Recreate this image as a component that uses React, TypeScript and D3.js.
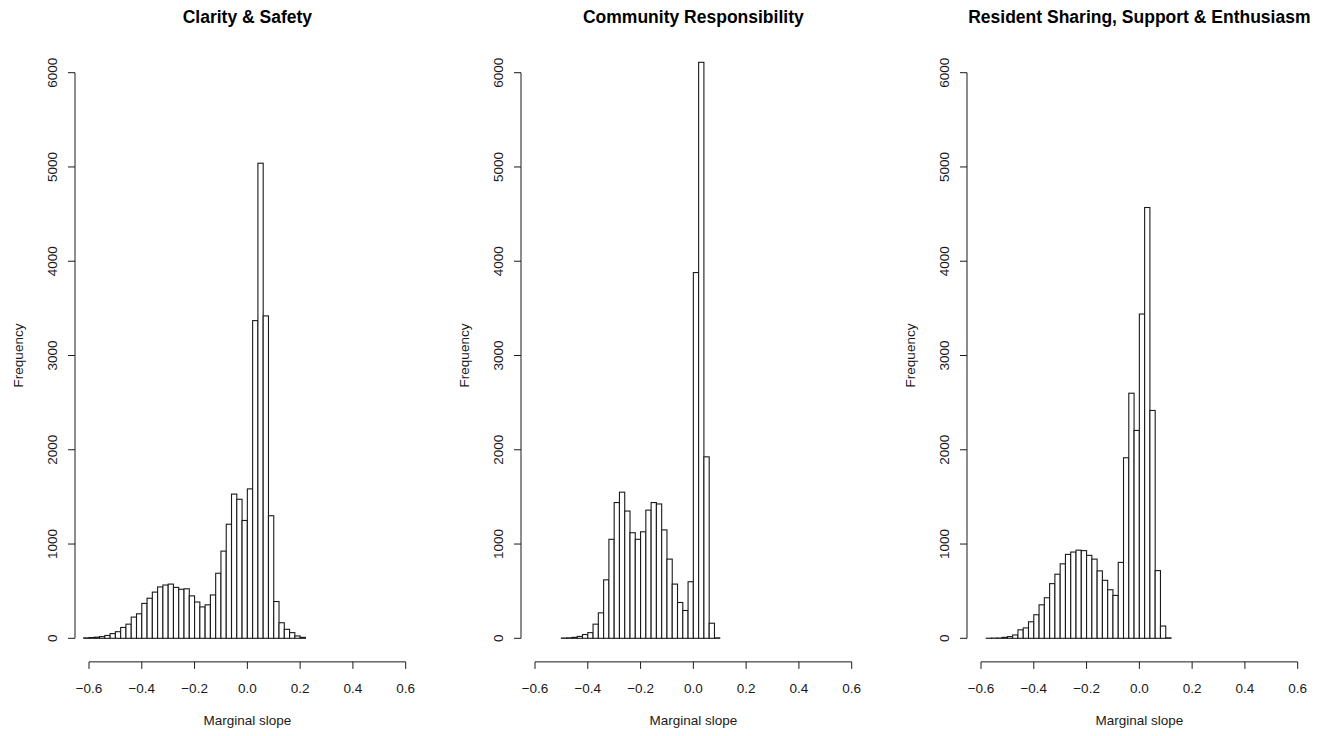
import { useEffect, useRef } from "react";
import * as d3 from "d3";

const WIDTH = 1329;
const HEIGHT = 736;

const BIN_WIDTH = 0.02;

const TITLES = [
  "Clarity & Safety",
  "Community Responsibility",
  "Resident Sharing, Support & Enthusiasm",
];

// first break of each histogram
const BIN_STARTS = [-0.62, -0.5, -0.58];

const clarityCounts = [
  5, 8, 12, 18, 30, 50, 70, 115, 150, 225, 260, 370, 425, 490, 545, 565, 575, 540, 520, 525, 450,
  385, 333, 355, 460, 690, 925, 1210, 1530, 1475, 1250, 1585, 3370, 5040, 3420, 1300, 390, 165, 95,
  60, 25, 10,
];

const communityCounts = [
  3, 5, 10, 20, 40, 60, 150, 270, 620, 1050, 1440, 1550, 1350, 1120, 1050, 1130, 1360, 1440, 1425,
  1150, 840, 575, 380, 295, 600, 3880, 6110, 1925, 160, 5,
];

const residentCounts = [
  1, 2, 3, 10, 18, 35, 90, 110, 175, 250, 355, 430, 580, 680, 790, 890, 915, 935, 930, 880, 840,
  715, 615, 515, 455, 805, 1915, 2600, 2205, 3440, 4570, 2417, 718, 130, 5,
];

const COUNTS = [clarityCounts, communityCounts, residentCounts];

const X_TICKS = [-0.6, -0.4, -0.2, 0, 0.2, 0.4, 0.6];
const Y_TICKS = [0, 1000, 2000, 3000, 4000, 5000, 6000];

const FONT = "'Liberation Sans', Arial, Helvetica, sans-serif";
const INK = "#1a1a1a";

export default function App() {
  const svgRef = useRef<SVGSVGElement | null>(null);

  useEffect(() => {
    const svgElement = svgRef.current;
    if (!svgElement) return;

    const svg = d3.select(svgElement);
    svg.selectAll("*").remove();

    const panelStep = 446;
    const y = d3.scaleLinear().domain([0, 6000]).range([638.3, 72.7]);
    const fmt = (v: number) => (v < 0 ? `\u2212${Math.abs(v).toFixed(1)}` : v.toFixed(1));

    TITLES.forEach((title, i) => {
      const ox = i * panelStep;
      const x = d3.scaleLinear().domain([-0.6, 0.6]).range([89 + ox, 405.7 + ox]);
      const g = svg.append("g");

      const bins = COUNTS[i].map((count, k) => ({
        x0: BIN_STARTS[i] + k * BIN_WIDTH,
        x1: BIN_STARTS[i] + (k + 1) * BIN_WIDTH,
        count,
      }));

      g.selectAll("rect.bar")
        .data(bins)
        .join("rect")
        .attr("class", "bar")
        .attr("x", (d) => x(d.x0))
        .attr("y", (d) => y(d.count))
        .attr("width", (d) => x(d.x1) - x(d.x0))
        .attr("height", (d) => y(0) - y(d.count))
        .attr("fill", "#ffffff")
        .attr("stroke", INK)
        .attr("stroke-width", 1.1);

      // x axis
      const axisY = y(-250);
      g.append("line")
        .attr("x1", x(-0.6))
        .attr("x2", x(0.6))
        .attr("y1", axisY)
        .attr("y2", axisY)
        .attr("stroke", INK)
        .attr("stroke-width", 1);
      X_TICKS.forEach((t) => {
        g.append("line")
          .attr("x1", x(t))
          .attr("x2", x(t))
          .attr("y1", axisY)
          .attr("y2", axisY + 7)
          .attr("stroke", INK);
        g.append("text")
          .attr("x", x(t))
          .attr("y", axisY + 31)
          .attr("text-anchor", "middle")
          .attr("font-family", FONT)
          .attr("font-size", 13.5)
          .attr("fill", INK)
          .text(fmt(t));
      });
      g.append("text")
        .attr("x", x(0))
        .attr("y", 725)
        .attr("text-anchor", "middle")
        .attr("font-family", FONT)
        .attr("font-size", 13.5)
        .attr("fill", INK)
        .text("Marginal slope");

      // y axis
      const axisX = x(-0.653);
      g.append("line")
        .attr("x1", axisX)
        .attr("x2", axisX)
        .attr("y1", y(0))
        .attr("y2", y(6000))
        .attr("stroke", INK);
      Y_TICKS.forEach((t) => {
        g.append("line")
          .attr("x1", axisX - 7)
          .attr("x2", axisX)
          .attr("y1", y(t))
          .attr("y2", y(t))
          .attr("stroke", INK);
        g.append("text")
          .attr("transform", `translate(${axisX - 18}, ${y(t)}) rotate(-90)`)
          .attr("text-anchor", "middle")
          .attr("font-family", FONT)
          .attr("font-size", 13.5)
          .attr("fill", INK)
          .text(String(t));
      });
      g.append("text")
        .attr("transform", `translate(${axisX - 52}, ${y(3000)}) rotate(-90)`)
        .attr("text-anchor", "middle")
        .attr("font-family", FONT)
        .attr("font-size", 13.5)
        .attr("fill", INK)
        .text("Frequency");

      // title
      g.append("text")
        .attr("x", x(0))
        .attr("y", 23)
        .attr("text-anchor", "middle")
        .attr("font-family", FONT)
        .attr("font-size", 17.5)
        .attr("font-weight", 700)
        .attr("fill", "#000")
        .text(title);
    });
  }, []);

  return (
    <svg
      ref={svgRef}
      width={WIDTH}
      height={HEIGHT}
      style={{ position: "absolute", left: 0, top: 0, background: "#fff" }}
    />
  );
}
